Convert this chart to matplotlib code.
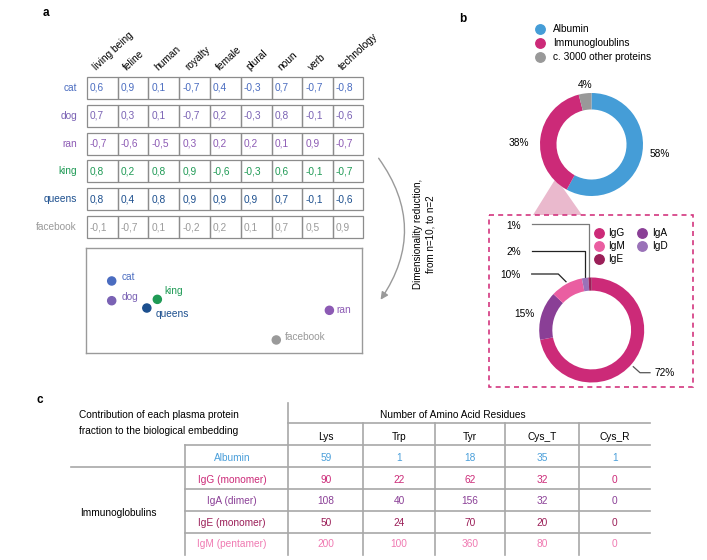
import matplotlib
matplotlib.use("Agg")
import matplotlib.pyplot as plt
from matplotlib.patches import Rectangle, Polygon, FancyArrowPatch

plt.rcParams['font.family'] = ['Liberation Sans', 'DejaVu Sans']

W, H = 707, 560
FS = 7.3

# ---- panel a: toy word embedding ----
features = ['living being', 'feline', 'human', 'royalty', 'female',
            'plural', 'noun', 'verb', 'technology']
words = ['cat', 'dog', 'ran', 'king', 'queens', 'facebook']
word_colors = ['#4a6cc0', '#7a62b4', '#8c5ab4', '#1f9a55', '#1c4f8e', '#9a9a9a']
embedding = [
    [0.6, 0.9, 0.1, -0.7, 0.4, -0.3, 0.7, -0.7, -0.8],
    [0.7, 0.3, 0.1, -0.7, 0.2, -0.3, 0.8, -0.1, -0.6],
    [-0.7, -0.6, -0.5, 0.3, 0.2, 0.2, 0.1, 0.9, -0.7],
    [0.8, 0.2, 0.8, 0.9, -0.6, -0.3, 0.6, -0.1, -0.7],
    [0.8, 0.4, 0.8, 0.9, 0.9, 0.9, 0.7, -0.1, -0.6],
    [-0.1, -0.7, 0.1, -0.2, 0.2, 0.1, 0.7, 0.5, 0.9],
]
# 2-D projection (arbitrary units)
reduced_x = [9.4, 9.4, 88.1, 25.9, 22.1, 68.9]
reduced_y = [68.7, 49.8, 40.6, 51.1, 42.8, 12.2]
label_offsets = [(7, 3), (7, 3), (5, 0), (5, 6), (6, -4), (6, 2)]

# ---- panel b: plasma proteins ----
plasma_labels = ['Albumin', 'Immunogloublins', 'c. 3000 other proteins']
plasma_share = [58, 38, 4]
plasma_colors = ['#459dd7', '#cc2a78', '#999999']

ig_labels = ['IgG', 'IgA', 'IgM', 'IgD', 'IgE']
ig_share = [72, 15, 10, 2, 1]
ig_colors = ['#cc2a78', '#8a3f96', '#ea5ea1', '#9a72b8', '#9b1f58']

# ---- panel c: amino acid residues ----
residues = ['Lys', 'Trp', 'Tyr', 'Cys_T', 'Cys_R']
proteins = ['Albumin', 'IgG (monomer)', 'IgA (dimer)', 'IgE (monomer)', 'IgM (pentamer)']
protein_colors = ['#4a9fda', '#cc2a78', '#8a3f96', '#9b1f58', '#f07ab2']
counts = [
    [59, 1, 18, 35, 1],
    [90, 22, 62, 32, 0],
    [108, 40, 156, 32, 0],
    [50, 24, 70, 20, 0],
    [200, 100, 360, 80, 0],
]

fig = plt.figure(figsize=(W / 100, H / 100), dpi=100)
ax = fig.add_axes([0, 0, 1, 1])
ax.set_xlim(0, W)
ax.set_ylim(H, 0)
ax.axis('off')


def px_axes(x0, y0, x1, y1):
    return fig.add_axes([x0 / W, 1 - y1 / H, (x1 - x0) / W, (y1 - y0) / H])


# panel letters
for letter, (lx, ly) in zip('abc', [(46, 13), (463, 19), (40, 400)]):
    ax.text(lx, ly, letter, fontsize=8.5, fontweight='bold', ha='center', va='center')

# panel a table
col_edges = [86.7, 117.7, 148.3, 179.3, 210, 240.7, 271.7, 302.3, 332.7, 363.3]
row_top = 77
row_pitch = 27.8
row_h = 22
for j, feat in enumerate(features):
    ax.text(col_edges[j] + 11, 72, feat, rotation=43, rotation_mode='anchor',
            ha='left', va='bottom', fontsize=FS)
for i, (word, vals, c) in enumerate(zip(words, embedding, word_colors)):
    y0 = row_top + i * row_pitch
    ax.text(77, y0 + row_h / 2, word, color=c, ha='right', va='center', fontsize=FS)
    for j, v in enumerate(vals):
        ax.add_patch(Rectangle((col_edges[j], y0), col_edges[j + 1] - col_edges[j], row_h,
                               fill=False, ec='#8c8c8c', lw=0.9))
        ax.text(col_edges[j] + 3, y0 + row_h / 2, f"{v:.1f}".replace('.', ','),
                color=c, ha='left', va='center', fontsize=FS)

# panel a scatter of reduced embedding
sax = px_axes(85.7, 248.3, 362.3, 352.7)
sax.set_xlim(0, 100)
sax.set_ylim(0, 100)
sax.set_xticks([])
sax.set_yticks([])
for sp in sax.spines.values():
    sp.set_color('#9a9a9a')
    sp.set_linewidth(1.0)
sax.scatter(reduced_x, reduced_y, c=word_colors, s=34, zorder=3)
for word, x, y, c, off in zip(words, reduced_x, reduced_y, word_colors, label_offsets):
    sax.annotate(word, (x, y), xytext=off, textcoords='offset points',
                 color=c, fontsize=FS, ha='left', va='center')

# curved arrow + note
arrow = FancyArrowPatch((377, 156), (379, 302), connectionstyle='arc3,rad=-0.36',
                        arrowstyle='-|>', mutation_scale=11, color='#9a9a9a', lw=1.0)
ax.add_patch(arrow)
ax.text(424, 234, 'Dimensionality reduction,\nfrom n=10, to n=2', rotation=90,
        ha='center', va='center', multialignment='center', fontsize=7.1, linespacing=1.35)

# panel b legend
for k, (lab, c) in enumerate(zip(plasma_labels, plasma_colors)):
    yy = 29.3 + k * 13.7
    ax.plot(540, yy, 'o', ms=6.8, color=c)
    ax.text(553, yy, lab, ha='left', va='center', fontsize=FS)

# zoom triangle (behind donut)
ax.add_patch(Polygon([(556, 178), (533, 215), (582, 215)], closed=True,
                     fc='#eab9cd', ec='none'))

dax = px_axes(540, 93, 643, 196)
dax.pie(plasma_share, colors=plasma_colors, startangle=90, counterclock=False,
        radius=1, wedgeprops=dict(width=0.32, linewidth=0))
dax.set_xlim(-1, 1)
dax.set_ylim(-1, 1)
ax.text(585, 85, f"{plasma_share[2]}%", ha='center', va='center', fontsize=FS)
ax.text(519.3, 142.7, f"{plasma_share[1]}%", ha='center', va='center', fontsize=FS)
ax.text(659.3, 154, f"{plasma_share[0]}%", ha='center', va='center', fontsize=FS)

# dashed zoom box
ax.add_patch(Rectangle((489, 215), 204.3, 172.3, fill=False, ec='#d3367f',
                       lw=1.2, ls=(0, (3, 2.5))))

iax = px_axes(539.2, 277.5, 644.2, 382.5)
iax.pie(ig_share, colors=ig_colors, startangle=90, counterclock=False,
        radius=1, wedgeprops=dict(width=0.25, linewidth=0))
iax.set_xlim(-1, 1)
iax.set_ylim(-1, 1)

# immunoglobulin legend
ig_legend = [('IgG', 608.3, 233.3), ('IgM', 608.3, 246), ('IgE', 608.3, 259),
             ('IgA', 651.7, 233.3), ('IgD', 651.7, 246)]
for lab, tx, ty in ig_legend:
    ax.plot(tx - 9.3, ty, 'o', ms=6.8, color=ig_colors[ig_labels.index(lab)])
    ax.text(tx, ty, lab, ha='left', va='center', fontsize=FS)

# leader lines and labels
share = dict(zip(ig_labels, ig_share))
ax.plot([531.7, 589.3, 589.3], [224.3, 224.3, 278.3], color='#7a7a7a', lw=0.9)
ax.text(513.3, 226, f"{share['IgE']}%", ha='center', va='center', fontsize=FS)
ax.plot([531.7, 585, 585], [251, 251, 279.3], color='#222222', lw=0.9)
ax.text(513.3, 252.3, f"{share['IgD']}%", ha='center', va='center', fontsize=FS)
ax.plot([531.7, 558.3, 566], [274, 274, 281.7], color='#222222', lw=0.9)
ax.text(510.7, 275.3, f"{share['IgM']}%", ha='center', va='center', fontsize=FS)
ax.text(524.3, 314.3, f"{share['IgA']}%", ha='center', va='center', fontsize=FS)
ax.plot([633.3, 640, 650], [366.7, 372.7, 372.7], color='#555555', lw=0.9)
ax.text(665, 372.7, f"{share['IgG']}%", ha='center', va='center', fontsize=FS)

# panel c table
line_c = '#a8a8a8'
ax.text(79.3, 415, 'Contribution of each plasma protein', ha='left', va='center', fontsize=FS)
ax.text(79.3, 430.7, 'fraction to the biological embedding', ha='left', va='center', fontsize=FS)
ax.text(453, 415, 'Number of Amino Acid Residues', ha='center', va='center', fontsize=FS)

res_edges = [288.3, 363.3, 435, 505, 579.3, 650]
row_lines = [445, 467.3, 489, 510.7, 532.7]
row_centers = [458.3, 480, 501, 523.3, 544]

ax.plot([288.3, 288.3], [402.7, 555], color=line_c, lw=1.2)
ax.plot([288.3, 650], [423.3, 423.3], color=line_c, lw=1.2)
for xe in res_edges[1:-1]:
    ax.plot([xe, xe], [423.3, 555], color=line_c, lw=1.2)
ax.plot([185, 185], [445, 555], color=line_c, lw=1.2)
for k, yl in enumerate(row_lines):
    x_start = 70.7 if k == 1 else 185
    ax.plot([x_start, 650], [yl, yl], color=line_c, lw=1.2)

for j, r in enumerate(residues):
    ax.text((res_edges[j] + res_edges[j + 1]) / 2, 436.7, r, ha='center', va='center', fontsize=FS)
for i, (p, c, row) in enumerate(zip(proteins, protein_colors, counts)):
    ax.text(232, row_centers[i], p, color=c, ha='center', va='center', fontsize=FS)
    for j, v in enumerate(row):
        ax.text((res_edges[j] + res_edges[j + 1]) / 2, row_centers[i], str(v),
                color=c, ha='center', va='center', fontsize=FS)
ax.text(80, 512.7, 'Immunoglobulins', ha='left', va='center', fontsize=FS)

fig.savefig('out.png', dpi=100)
